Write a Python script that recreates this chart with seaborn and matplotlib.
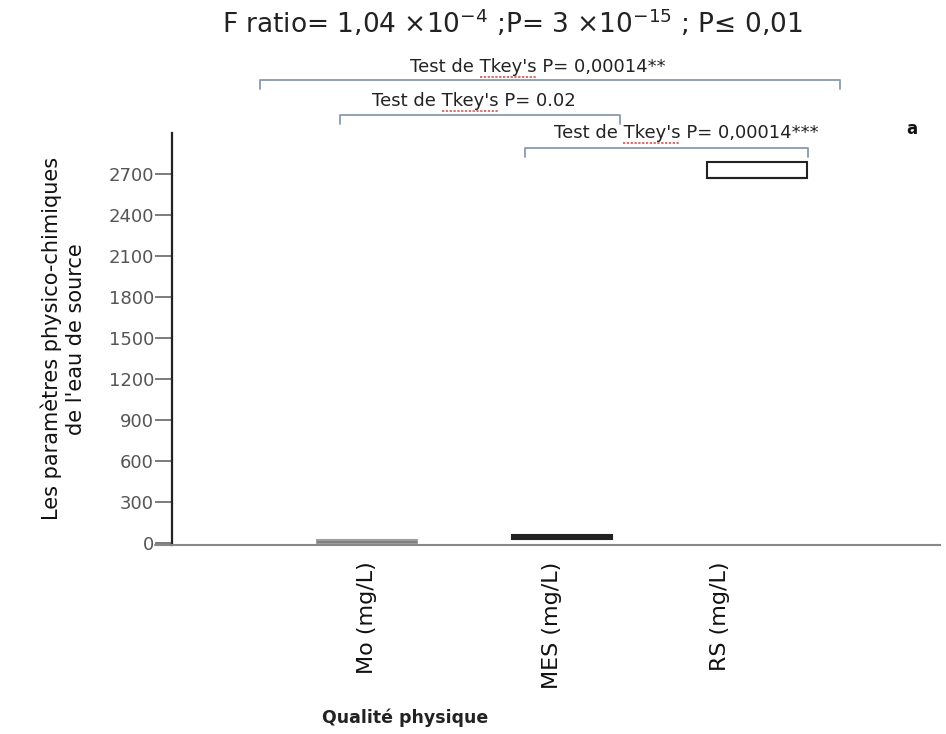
import numpy as np
import pandas as pd
import matplotlib
matplotlib.use("Agg")
import matplotlib.pyplot as plt
import seaborn as sns
from matplotlib.lines import Line2D

sns.set_theme(style="white")
plt.rcParams['font.family'] = ['DejaVu Sans']
plt.rcParams['mathtext.fontset'] = 'dejavusans'

categories = ["Mo (mg/L)", "MES (mg/L)", "RS (mg/L)"]
mo_values = [0, 0, 8, 20, 20]
mes_values = [30, 30, 45, 58, 58]
rs_values = [2665, 2670, 2672, 2785, 2790]
yticks = [0, 300, 600, 900, 1200, 1500, 1800, 2100, 2400, 2700]
tests = ["Test de Tkey's P= 0,00014**", "Test de Tkey's P= 0.02", "Test de Tkey's P= 0,00014***"]

df = pd.DataFrame({
    "cat": [categories[0]] * len(mo_values) + [categories[1]] * len(mes_values) + [categories[2]] * len(rs_values),
    "val": mo_values + mes_values + rs_values,
})

fig = plt.figure(figsize=(9.46, 7.34), dpi=100)
ax = fig.add_axes([0.182, 0.2575, 0.812, 0.5615])

sns.boxplot(data=df, x="cat", y="val", order=categories, ax=ax, width=0.51,
            palette=["#b4b4b4", "#333333", "white"], hue="cat", legend=False,
            linecolor="#222222", linewidth=1.5, whis=0, showfliers=False,
            showcaps=False)
# soften the Mo box edge to grey
ax.patches[0].set_edgecolor("#a0a0a0")
for ln in ax.lines:
    xd = np.asarray(ln.get_xdata(), dtype=float)
    if len(xd) and np.all(np.abs(xd) < 0.4):
        ln.set_color("#808080")

ax.set_xlim(-1.0, 2.94)
ax.set_ylim(-15, 3000)
ax.set_yticks(yticks)
ax.set_yticklabels([str(v) for v in yticks], fontsize=13, color="#555555")
ax.tick_params(axis="y", direction="out", length=12, width=1.2, color="#666666", pad=1, left=True)
ax.set_xticks([0, 0.95, 1.81])
ax.set_xticklabels(categories, rotation=90, fontsize=16, color="#111111")
ax.tick_params(axis="x", length=0, pad=12)
ax.set_xlabel("")
ax.set_ylabel("Les paramètres physico-chimiques\nde l'eau de source", fontsize=15, labelpad=16,
              color="#111111", linespacing=1.25)

for s in ["top", "right"]:
    ax.spines[s].set_visible(False)
ax.spines["left"].set_color("#222222")
ax.spines["left"].set_linewidth(1.6)
ax.spines["bottom"].set_color("#888888")
ax.spines["bottom"].set_linewidth(1.5)
ax.add_line(Line2D([-0.022, 0], [0, 0], transform=ax.transAxes, color="#888888", lw=1.5, clip_on=False))

W, H = 946, 734
def fx(px):
    return px / W
def fy(py):
    return 1 - py / H

fig.text(fx(512), fy(23), r"F ratio= 1,04 ×10$^{-4}$ ;P= 3 ×10$^{-15}$ ; P≤ 0,01",
         ha="center", va="center", fontsize=19, color="#222222")

brackets = [(260, 840, 80, tests[0], 538, 67),
            (340, 620, 115, tests[1], 474, 101),
            (525, 808, 148, tests[2], 686, 133)]
fs = 13
fig.canvas.draw()
renderer = fig.canvas.get_renderer()
for x0, x1, yb, txt, tx, ty in brackets:
    fig.add_artist(Line2D([fx(x0), fx(x0), fx(x1), fx(x1)],
                          [fy(yb + 9), fy(yb), fy(yb), fy(yb + 9)],
                          color="#8a9ab0", lw=1.3))
    t = fig.text(fx(tx), fy(ty), txt, ha="center", va="center", fontsize=fs, color="#222222")
    bb = t.get_window_extent(renderer)
    tmp1 = fig.text(0, 0, "Test de ", fontsize=fs)
    tmp2 = fig.text(0, 0, "Test de Tkey's", fontsize=fs)
    w1 = tmp1.get_window_extent(renderer).width
    w2 = tmp2.get_window_extent(renderer).width
    tmp1.remove(); tmp2.remove()
    ux0 = bb.x0 + w1
    ux1 = bb.x0 + w2
    fig.add_artist(Line2D([ux0 / W, ux1 / W], [fy(ty + 10), fy(ty + 10)], color="#d04848",
                          lw=1.1, linestyle=(0, (1.5, 1.0))))

fig.text(fx(912), fy(129), "a", ha="center", va="center", fontsize=12, fontweight="bold", color="#111111")
fig.text(fx(405), fy(718), "Qualité physique", ha="center", va="center", fontsize=12.5,
         fontweight="bold", color="#222222")

fig.savefig("out.png", dpi=100, facecolor="white")
